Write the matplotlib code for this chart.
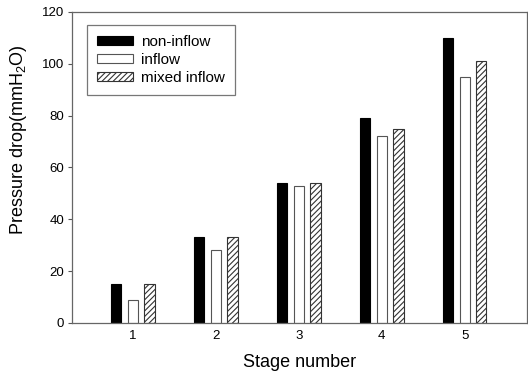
import numpy as np
import matplotlib
matplotlib.use("Agg")
import matplotlib.pyplot as plt

plt.rcParams['font.family'] = ['Liberation Sans', 'DejaVu Sans']
plt.rcParams['mathtext.fontset'] = 'custom'
plt.rcParams['mathtext.rm'] = 'Liberation Sans'
plt.rcParams['mathtext.it'] = 'Liberation Sans:italic'
plt.rcParams['hatch.linewidth'] = 0.8

stages = [1, 2, 3, 4, 5]
non_inflow = [15, 33, 54, 79, 110]
inflow = [9, 28, 53, 72, 95]
mixed_inflow = [15, 33, 54, 75, 101]

fig = plt.figure(figsize=(5.28, 3.72), dpi=100)
ax = fig.add_axes([0.136, 0.132, 0.862, 0.836])

x = np.array(stages, dtype=float)
w = 0.125
off = 0.2
ax.bar(x - off, non_inflow, w, color='black', edgecolor='black', linewidth=0.8, label='non-inflow')
ax.bar(x, inflow, w, color='white', edgecolor='#555555', linewidth=0.8, label='inflow')
ax.bar(x + off, mixed_inflow, w, color='white', edgecolor='#333333', linewidth=0.8,
       hatch='//////', label='mixed inflow')

ax.set_xlim(0.265, 5.75)
ax.set_ylim(0, 120)
ax.set_xticks(stages)
ax.set_yticks(range(0, 121, 20))
ax.tick_params(axis='x', length=0, pad=5, labelsize=9.5)
ax.tick_params(axis='y', direction='out', length=3, width=0.8, color='#555555',
               pad=2.5, labelsize=9.5)
for s in ax.spines.values():
    s.set_color('#666666')
    s.set_linewidth(0.9)

ax.set_xlabel('Stage number', fontsize=13)
ax.set_ylabel(r'Pressure drop(mmH$_\mathrm{2}$O)', fontsize=13)
ax.xaxis.set_label_coords(0.5, -0.101)
ax.yaxis.set_label_coords(-0.0945, 0.588)

leg = ax.legend(loc='upper left', bbox_to_anchor=(0.033, 0.958), borderaxespad=0,
                fontsize=11, frameon=True, fancybox=False, edgecolor='#555555',
                handlelength=2.36, handleheight=0.52, borderpad=0.65,
                labelspacing=0.26, handletextpad=0.52)
leg.get_frame().set_linewidth(0.9)

fig.savefig('out.png', dpi=100)
